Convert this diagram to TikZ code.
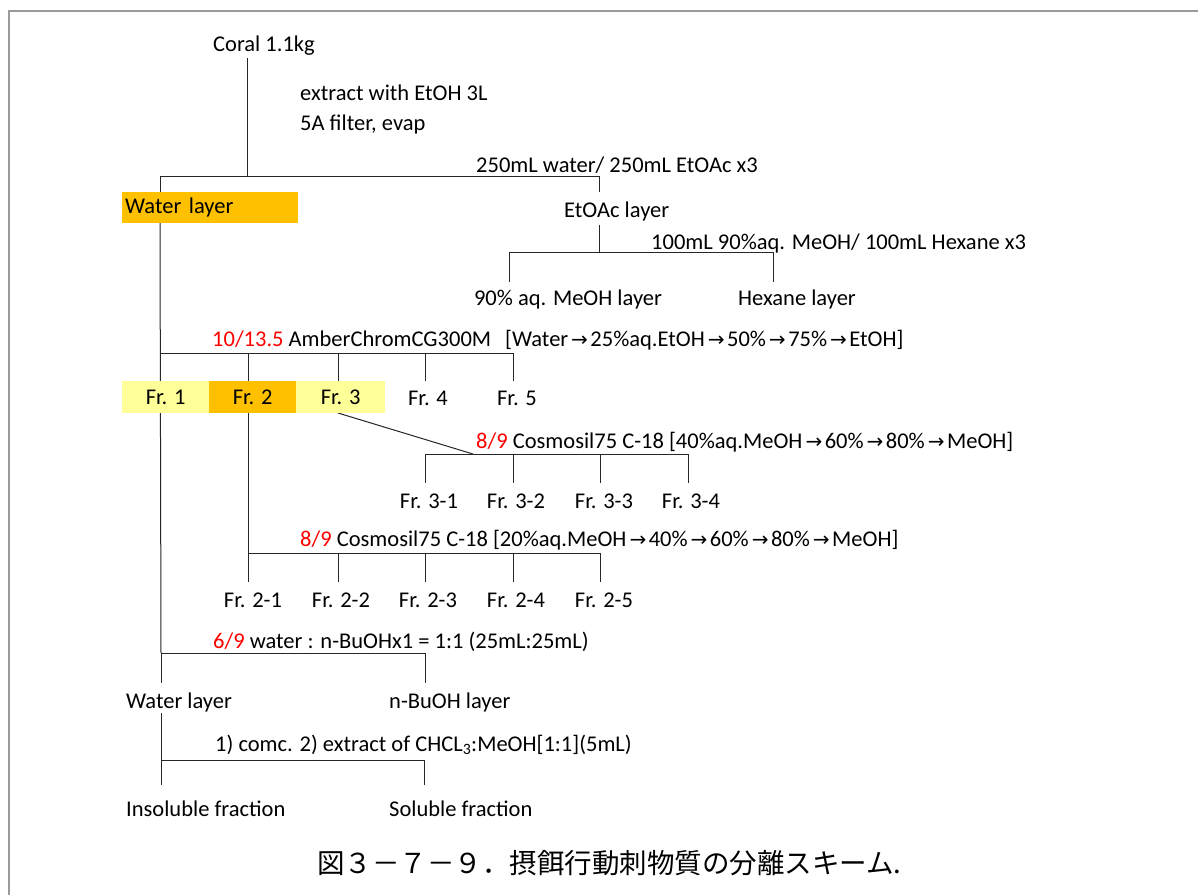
\documentclass[tikz,border=0pt]{standalone}
\usepackage{fontspec}
\setmainfont{Carlito}
\newfontfamily\cjk{Noto Sans CJK JP}
\newfontfamily\arrfont{DejaVu Sans}
\newcommand\rarr{\kern3pt{\arrfont\fontsize{20}{20}\selectfont →}\kern2.5pt}
\definecolor{orangeA}{HTML}{FFC000}
\definecolor{yelA}{HTML}{FFFF99}
\definecolor{frameC}{HTML}{9A9A9A}
\begin{document}
\begin{tikzpicture}[x=1pt,y=-1pt,
  every node/.style={font=\fontsize{22.5}{26}\selectfont, inner sep=0pt},
  lbl/.style={anchor=west, yshift=-2pt},
  ctr/.style={anchor=center, yshift=-1pt},
  ln/.style={line width=1pt, draw=black!85},
  hbox/.style={minimum height=32pt, anchor=north west}]
\useasboundingbox (0,0) rectangle (1198,895);
% frame
\draw[frameC, line width=2pt] (9,895) -- (9,11) -- (1198,11);

% ---- junction coordinates
\coordinate (j0) at (247,176);
\coordinate (b1l) at (160,176);
\coordinate (b1r) at (599,176);
\coordinate (b2m) at (599,252);
\coordinate (b2l) at (509,252);
\coordinate (b2r) at (773,252);
\coordinate (b3l) at (160,353);
\coordinate (b3r) at (513,353);
\coordinate (d3) at (473,454);
\coordinate (b4l) at (425,454);
\coordinate (b4r) at (688,454);
\coordinate (b5l) at (248,553);
\coordinate (b5r) at (600,553);
\coordinate (b6l) at (161,653);
\coordinate (b6r) at (425,653);
\coordinate (b7l) at (161,760);
\coordinate (b7r) at (424,760);

% labels
\node[lbl] (coral) at (213,44) {Coral 1.1kg};
\node[lbl] (t1) at (300,91) {extract with EtOH 3L};
\node[lbl] (t2) at (300,122) {5A filter, evap};
\node[lbl] (t3) at (476,163) {250mL water/ 250mL EtOAc x3};
\node[lbl] (etoac) at (564,209) {EtOAc layer};
\node[lbl] (t4) at (651,241) {100mL 90\%aq. MeOH/ 100mL Hexane x3};
\node[ctr] (meoh) at (568,298) {90\% aq. MeOH layer};
\node[ctr] (hex) at (797,298) {Hexane layer};
\node[lbl] (t5) at (212,338) {\textcolor{red}{10/13.5} AmberChromCG300M\hspace{0.4em} [Water\rarr25\%aq.EtOH\rarr50\%\rarr75\%\rarr EtOH]};
\node[lbl] (t6) at (476,440) {\textcolor{red}{8/9} Cosmosil75 C-18 [40\%aq.MeOH\rarr60\%\rarr80\%\rarr MeOH]};
\node[lbl] (t7) at (300,538) {\textcolor{red}{8/9} Cosmosil75 C-18 [20\%aq.MeOH\rarr40\%\rarr60\%\rarr80\%\rarr MeOH]};
\node[lbl] (t8) at (213,640) {\textcolor{red}{6/9} water : n-BuOHx1 = 1:1 (25mL:25mL)};
\node[lbl] (t9) at (215,743) {1) comc. 2) extract of CHCL\textsubscript{3}:MeOH[1:1](5mL)};

% connectors
\draw[ln] (coral.south -| j0) ++(0,2) -- (j0);
\draw[ln] (b1l) ++(0,16) -- (b1l) -- (b1r) -- ++(0,16);
\draw[ln] (b2m |- etoac.south) ++(0,4) -- (b2m);
\draw[ln] (b2l) ++(0,30) -- (b2l) -- (b2r) -- ++(0,30);
\draw[ln] (160,223) -- (b6l);
\draw[ln] (b3l) -- (b3r) -- ++(0,28);
\foreach \x in {248,338,425} \draw[ln] (\x,353) -- (\x,381);
\draw[ln] (248,413) -- (b5l);
\draw[ln] (338,413) -- (d3);
\draw[ln] (b4l) ++(0,29) -- (b4l) -- (b4r) -- ++(0,29);
\foreach \x in {513,600} \draw[ln] (\x,454) -- (\x,483);
\draw[ln] (b5l) ++(0,29) -- (b5l) -- (b5r) -- ++(0,29);
\foreach \x in {338,425,513} \draw[ln] (\x,553) -- (\x,582);
\draw[ln] (b6l) -- (b6r) -- ++(0,30);
\draw[ln] (b6l) -- ++(0,30);
\draw[ln] (161,713) -- (b7l) -- (b7r) -- ++(0,25);
\draw[ln] (b7l) -- ++(0,25);

% boxes
\node[hbox, fill=orangeA, minimum width=176pt, minimum height=31pt, text width=170pt, inner xsep=3pt, align=left] (wl) at (122,192) {\raisebox{-2pt}{Water layer}};
\node[hbox, fill=yelA, minimum width=87pt] (fr1) at (122,381) {Fr. 1};
\node[hbox, fill=orangeA, minimum width=87pt] (fr2) at (209,381) {Fr. 2};
\node[hbox, fill=yelA, minimum width=89pt] (fr3) at (296,381) {Fr. 3};
\node[ctr] (fr4) at (428,397) {Fr. 4};
\node[ctr] (fr5) at (517,397) {Fr. 5};

\node[ctr] (f31) at (429,500) {Fr. 3-1};
\node[ctr] (f32) at (516,500) {Fr. 3-2};
\node[ctr] (f33) at (604,500) {Fr. 3-3};
\node[ctr] (f34) at (691,500) {Fr. 3-4};

\node[ctr] (f21) at (253,599) {Fr. 2-1};
\node[ctr] (f22) at (341,599) {Fr. 2-2};
\node[ctr] (f23) at (428,599) {Fr. 2-3};
\node[ctr] (f24) at (516,599) {Fr. 2-4};
\node[ctr] (f25) at (604,599) {Fr. 2-5};

\node[lbl] (wl2) at (126,700) {Water layer};
\node[lbl] (bu) at (389,700) {n-BuOH layer};
\node[lbl] (ins) at (126,807) {Insoluble fraction};
\node[lbl] (sol) at (389,807) {Soluble fraction};

\node[anchor=west, font=\cjk\fontsize{27.5}{32}\selectfont] (cap) at (317,863) {図３－７－９．摂餌行動刺物質の分離スキーム.};
\end{tikzpicture}
\end{document}
